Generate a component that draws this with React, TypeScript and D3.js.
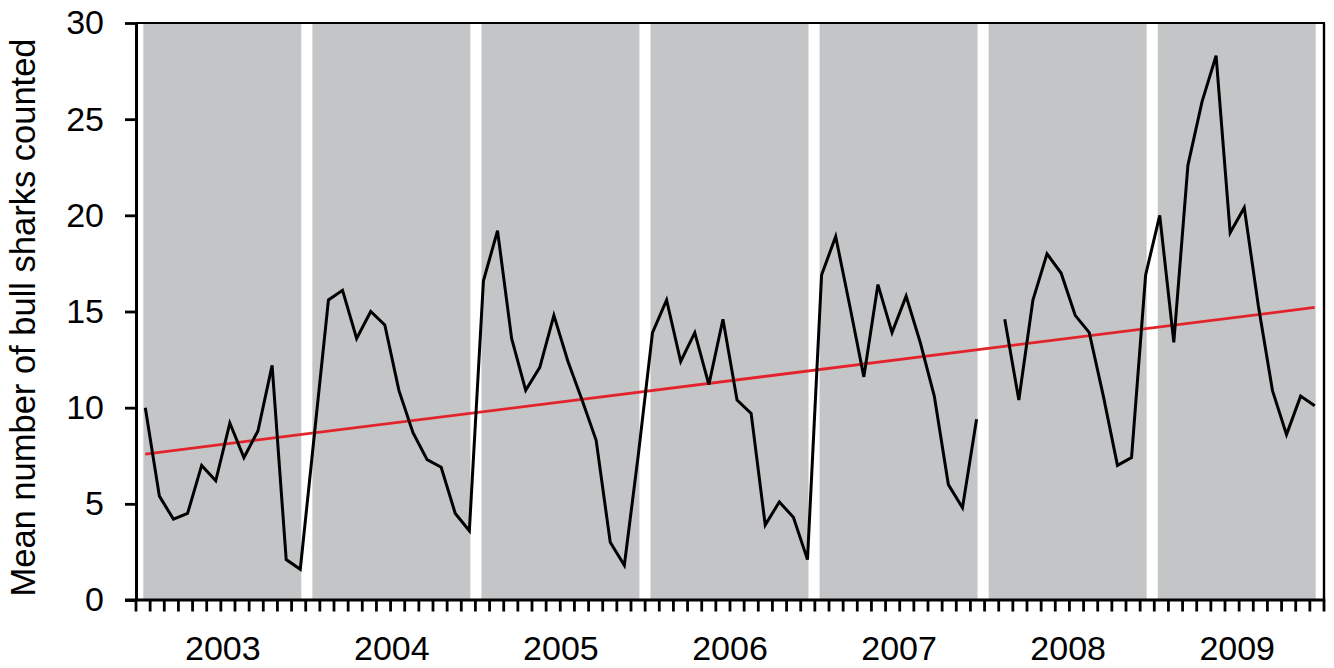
import { useEffect, useRef } from 'react';
import * as d3 from 'd3';

// monthly means, Jan..Dec per year (Jan 2008 missing)
const years = ['2003', '2004', '2005', '2006', '2007', '2008', '2009'];
const counts2003 = [10.0, 5.4, 4.2, 4.5, 7.0, 6.2, 9.2, 7.4, 8.8, 12.2, 2.1, 1.6];
const counts2004 = [8.6, 15.6, 16.1, 13.6, 15.0, 14.3, 10.9, 8.7, 7.3, 6.9, 4.5, 3.6];
const counts2005 = [16.6, 19.2, 13.6, 10.9, 12.1, 14.8, 12.4, 10.4, 8.3, 3.0, 1.8, 7.6];
const counts2006 = [13.9, 15.6, 12.4, 13.9, 11.2, 14.6, 10.4, 9.7, 3.9, 5.1, 4.3, 2.1];
const counts2007 = [16.9, 18.9, 15.3, 11.6, 16.4, 13.9, 15.8, 13.4, 10.6, 6.0, 4.8, 9.4];
const counts2008: (number | null)[] = [null, 14.6, 10.4, 15.6, 18.0, 17.0, 14.8, 13.9, 10.6, 7.0, 7.4, 16.9];
const counts2009 = [20.0, 13.4, 22.6, 25.9, 28.3, 19.1, 20.4, 15.3, 10.9, 8.6, 10.6, 10.1];

// linear trend read at first and last month
const trendStart = 7.59;
const trendEnd = 15.21;

const yTicks = [0, 5, 10, 15, 20, 25, 30];

const counts: (number | null)[] = [
  ...counts2003, ...counts2004, ...counts2005, ...counts2006,
  ...counts2007, ...counts2008, ...counts2009,
];

export default function App() {
  const svgRef = useRef<SVGSVGElement | null>(null);

  useEffect(() => {
    if (!svgRef.current) return;
    const svg = d3.select(svgRef.current);
    svg.selectAll('*').remove();

    const left = 136;
    const right = 1324;
    const top = 23;
    const bottom = 600;
    const pad = 9.3;
    const font = 'Liberation Sans, Arial, sans-serif';

    const n = counts.length;
    const x = d3.scaleLinear().domain([0, n - 1]).range([left + pad, right - pad]);
    const xTick = d3.scaleLinear().domain([0, n]).range([left, right]);
    const y = d3.scaleLinear().domain([0, 30]).range([bottom, top]);

    // year bands
    svg.append('g')
      .selectAll('rect')
      .data(years)
      .join('rect')
      .attr('x', (_, i) => x(i * 12) - 2)
      .attr('y', top)
      .attr('width', (_, i) => x(i * 12 + 11) + 1 - (x(i * 12) - 2))
      .attr('height', bottom - top)
      .attr('fill', '#c4c5c7');

    // trend line
    svg.append('line')
      .attr('x1', x(0)).attr('y1', y(trendStart))
      .attr('x2', x(n - 1)).attr('y2', y(trendEnd))
      .attr('stroke', '#e3232a')
      .attr('stroke-width', 2.8);

    // counts
    const line = d3.line<number | null>()
      .defined(d => d != null)
      .x((_, i) => x(i))
      .y(d => y(d as number));

    svg.append('path')
      .datum(counts)
      .attr('d', line)
      .attr('fill', 'none')
      .attr('stroke', '#000')
      .attr('stroke-width', 3);

    // frame top + right
    svg.append('line')
      .attr('x1', left).attr('x2', right + 1).attr('y1', top).attr('y2', top)
      .attr('stroke', '#000').attr('stroke-width', 2);
    svg.append('line')
      .attr('x1', right).attr('x2', right).attr('y1', top).attr('y2', bottom)
      .attr('stroke', '#000').attr('stroke-width', 2.4);

    // y axis
    const yAxis = svg.append('g')
      .attr('transform', `translate(${left},0)`)
      .call(d3.axisLeft(y).tickValues(yTicks).tickSize(11).tickPadding(21).tickSizeOuter(0));
    yAxis.select('.domain').attr('stroke-width', 3);
    yAxis.selectAll('.tick line').attr('stroke-width', 2.8);
    yAxis.selectAll('text')
      .attr('font-family', font)
      .attr('font-size', 34)
      .attr('fill', '#000');

    // x axis: month ticks
    const xg = svg.append('g');
    xg.append('line')
      .attr('x1', left - 11).attr('x2', right + 1.2)
      .attr('y1', bottom).attr('y2', bottom)
      .attr('stroke', '#000').attr('stroke-width', 3);
    xg.selectAll('line.m')
      .data(d3.range(n + 1))
      .join('line')
      .attr('class', 'm')
      .attr('x1', d => xTick(d)).attr('x2', d => xTick(d))
      .attr('y1', bottom).attr('y2', bottom + 11.5)
      .attr('stroke', '#000')
      .attr('stroke-width', 2.8);

    xg.selectAll('text')
      .data(years)
      .join('text')
      .attr('x', (_, i) => (x(i * 12) + x(i * 12 + 11)) / 2)
      .attr('y', 660)
      .attr('text-anchor', 'middle')
      .attr('font-family', font)
      .attr('font-size', 34)
      .text(d => d);

    // y label
    svg.append('text')
      .attr('transform', `translate(35,${(top + bottom) / 2 + 6}) rotate(-90)`)
      .attr('text-anchor', 'middle')
      .attr('font-family', font)
      .attr('font-size', 34.5)
      .text('Mean number of bull sharks counted');
  }, []);

  return (
    <div style={{ position: 'absolute', left: 0, top: 0 }}>
      <svg ref={svgRef} width={1334} height={668} style={{ display: 'block', background: '#fff' }} />
    </div>
  );
}
